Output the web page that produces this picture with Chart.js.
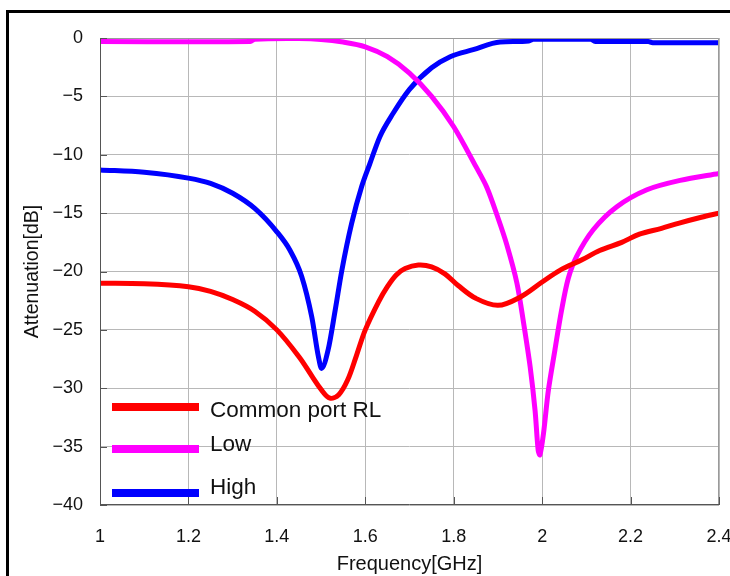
<!DOCTYPE html>
<html>
<head>
<meta charset="utf-8">
<title>Attenuation</title>
<script src="https://cdn.jsdelivr.net/npm/chart.js"></script>
<style>
  html, body { margin: 0; padding: 0; background: #fff; overflow: hidden; }
  #wrap { position: relative; width: 730px; height: 576px; }
  #frame { position: absolute; left: 6px; top: 10px; width: 900px; height: 900px;
           border-left: 3px solid #000; border-top: 3px solid #000; }
  #grafik { position: absolute; left: 0; top: 0; }
</style>
</head>
<body>
<div id="wrap">
  <div id="frame"></div>
  <canvas id="grafik" width="730" height="576"></canvas>
</div>
<script>
// Common port RL
let freqRL = [1.00, 1.10, 1.20, 1.25, 1.30, 1.35, 1.40, 1.45, 1.48, 1.50, 1.52, 1.54, 1.56, 1.58, 1.60, 1.63, 1.65, 1.67, 1.69, 1.72, 1.75, 1.78, 1.81, 1.85, 1.90, 1.95, 2.00, 2.04, 2.09, 2.13, 2.18, 2.22, 2.27, 2.31, 2.36, 2.40];
let nilaiRL = [-21.0, -21.05, -21.3, -21.7, -22.4, -23.4, -25.0, -27.3, -29.0, -30.1, -30.85, -30.55, -29.3, -27.2, -25.0, -22.6, -21.3, -20.3, -19.75, -19.45, -19.6, -20.2, -21.2, -22.3, -22.9, -22.2, -20.9, -19.9, -19.0, -18.2, -17.5, -16.8, -16.3, -15.85, -15.35, -15.0];

// Low
let freqLow = [1.00, 1.34, 1.35, 1.45, 1.50, 1.55, 1.60, 1.65, 1.70, 1.75, 1.80, 1.85, 1.875, 1.90, 1.92, 1.943, 1.958, 1.973, 1.984, 1.991, 1.995, 2.003, 2.014, 2.029, 2.044, 2.059, 2.078, 2.116, 2.169, 2.237, 2.312, 2.40];
let nilaiLow = [-0.3, -0.3, -0.1, -0.05, -0.12, -0.35, -0.75, -1.6, -3.0, -5.0, -7.6, -11.0, -12.8, -15.4, -17.7, -21.0, -24.4, -28.2, -31.9, -35.3, -35.7, -33.9, -30.2, -26.7, -23.3, -20.6, -18.7, -16.4, -14.45, -13.0, -12.2, -11.6];

// High
let freqHigh = [1.00, 1.10, 1.20, 1.25, 1.30, 1.35, 1.40, 1.43, 1.456, 1.479, 1.494, 1.501, 1.516, 1.532, 1.547, 1.569, 1.592, 1.61, 1.633, 1.663, 1.70, 1.75, 1.792, 1.844, 1.905, 1.97, 1.98, 2.11, 2.12, 2.24, 2.25, 2.40];
let nilaiHigh = [-11.3, -11.5, -12.0, -12.45, -13.3, -14.6, -16.6, -18.2, -20.4, -23.9, -27.3, -28.3, -26.7, -23.3, -19.9, -15.9, -12.7, -10.8, -8.45, -6.45, -4.4, -2.55, -1.6, -1.0, -0.35, -0.25, -0.1, -0.1, -0.3, -0.3, -0.4, -0.4];

let labelSeri = ['Common port RL', 'Low', 'High'];
let warnaSeri = ['#ff0000', '#ff00ff', '#0000ff'];

function gabung(fx, vy) {
  return fx.map((f, i) => ({ x: f, y: vy[i] }));
}

let inputData = {
  datasets: [
    { label: labelSeri[0], data: gabung(freqRL, nilaiRL), borderColor: warnaSeri[0], tension: 0.35 },
    { label: labelSeri[1], data: gabung(freqLow, nilaiLow), borderColor: warnaSeri[1], tension: 0.3 },
    { label: labelSeri[2], data: gabung(freqHigh, nilaiHigh), borderColor: warnaSeri[2], cubicInterpolationMode: 'monotone' }
  ]
};
inputData.datasets.forEach(d => {
  d.borderWidth = 5;
  d.pointRadius = 0;
  d.fill = false;
});

// border of plot area + inward tick marks + legend inside the plot
let pluginHias = {
  id: 'hias',
  afterDatasetsDraw(chart) {
    let ctx = chart.ctx;
    let a = chart.chartArea;
    let sx = chart.scales.x, sy = chart.scales.y;
    ctx.save();
    ctx.lineWidth = 1;
    ctx.strokeStyle = '#9a9a9a';
    ctx.beginPath();
    ctx.moveTo(a.left, a.top + 0.5); ctx.lineTo(a.right - 0.5, a.top + 0.5); ctx.lineTo(a.right - 0.5, a.bottom);
    ctx.stroke();
    ctx.strokeStyle = '#555';
    ctx.beginPath();
    ctx.moveTo(a.left + 0.5, a.top); ctx.lineTo(a.left + 0.5, a.bottom - 0.5); ctx.lineTo(a.right, a.bottom - 0.5);
    sy.ticks.forEach(t => {
      let y = Math.round(sy.getPixelForValue(t.value)) + 0.5;
      ctx.moveTo(a.left, y); ctx.lineTo(a.left + 7, y);
    });
    sx.ticks.forEach(t => {
      let x = Math.round(sx.getPixelForValue(t.value)) + 0.5;
      ctx.moveTo(x, a.bottom); ctx.lineTo(x, a.bottom - 8);
    });
    ctx.stroke();

    // legend
    let baris = [407, 449, 493];
    let teksY = [411, 445, 488];
    ctx.font = '22.5px "Liberation Sans", Arial, sans-serif';
    ctx.textBaseline = 'middle';
    labelSeri.forEach((lbl, i) => {
      ctx.fillStyle = warnaSeri[i];
      ctx.fillRect(a.left + 12, baris[i] - 4, 87, 8);
      ctx.fillStyle = '#111';
      ctx.fillText(lbl, a.left + 110, teksY[i]);
    });
    ctx.restore();
  }
};

let fontTick = { family: '"Liberation Sans", Arial, sans-serif', size: 18 };

let grafik = document.getElementById('grafik');
let myChart = new Chart(grafik, {
  type: 'line',
  data: inputData,
  options: {
    responsive: false,
    animation: false,
    layout: { padding: { top: 38, right: 11, left: 0, bottom: 0 } },
    plugins: { legend: { display: false }, tooltip: { enabled: false } },
    scales: {
      x: {
        type: 'linear',
        min: 1,
        max: 2.4,
        ticks: {
          stepSize: 0.2,
          padding: 21,
          color: '#111',
          font: fontTick,
          maxRotation: 0,
          callback: v => String(+v.toFixed(1))
        },
        grid: { color: '#b8b8b8', drawTicks: false },
        border: { display: false },
        title: {
          display: true,
          text: 'Frequency[GHz]',
          color: '#111',
          font: { family: fontTick.family, size: 20 },
          padding: { top: 0, bottom: 0 }
        },
        afterFit(s) {
          s.height = 71;
          s.paddingLeft = 0;
          s.paddingRight = 0;
        }
      },
      y: {
        min: -40,
        max: 0,
        ticks: {
          stepSize: 5,
          padding: 17,
          color: '#111',
          font: fontTick,
          callback: v => (v < 0 ? '\u2212' + Math.abs(v) : String(v))
        },
        grid: { color: '#b8b8b8', drawTicks: false },
        border: { display: false },
        title: {
          display: true,
          text: 'Attenuation[dB]',
          color: '#111',
          font: { family: fontTick.family, size: 19.5 },
          padding: { top: 21, bottom: 0 }
        },
        afterFit(s) {
          s.width = 100;
          s.paddingTop = 0;
          s.paddingBottom = 0;
        }
      }
    }
  },
  plugins: [pluginHias]
});
</script>
</body>
</html>
